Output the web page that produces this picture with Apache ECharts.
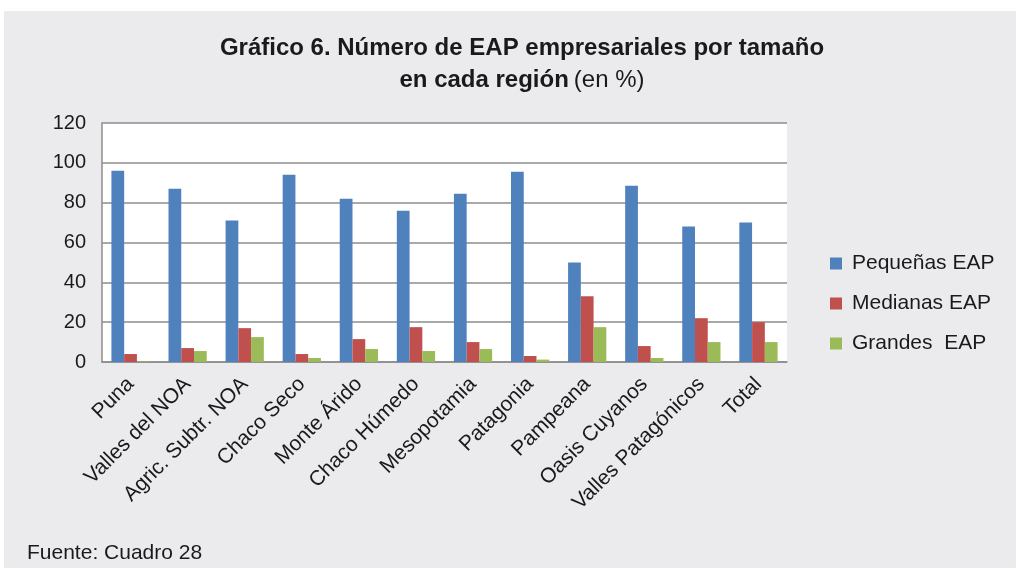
<!DOCTYPE html>
<html>
<head>
<meta charset="utf-8">
<script src="https://cdn.jsdelivr.net/npm/echarts@6/dist/echarts.min.js"></script>
<style>
  html, body { margin: 0; padding: 0; background: #ffffff; }
  #chart { width: 1016px; height: 568px; }
</style>
</head>
<body>
<div id="chart"></div>
<script>
// regiones
const regiones = ['Puna', 'Valles del NOA', 'Agric. Subtr. NOA', 'Chaco Seco', 'Monte Árido',
  'Chaco Húmedo', 'Mesopotamia', 'Patagonia', 'Pampeana', 'Oasis Cuyanos',
  'Valles Patagónicos', 'Total']
const pequenas = [96, 87, 71, 94, 82, 76, 84.5, 95.5, 50, 88.5, 68, 70]
const medianas = [4, 7, 17, 4, 11.5, 17.5, 10, 3, 33, 8, 22, 20]
const grandes = [0.3, 5.5, 12.5, 2, 6.5, 5.5, 6.5, 1.2, 17.5, 2, 10, 10]
const yTicks = [0, 20, 40, 60, 80, 100, 120]

const chart = echarts.init(document.getElementById('chart'))

const fuente = 'Liberation Sans, Arial, sans-serif'

const barSerie = (name, data, color) => ({
  name: name,
  type: 'bar',
  data: data,
  barGap: '0%',
  barCategoryGap: '33%',
  itemStyle: { color: color },
  emphasis: { disabled: true }
})

chart.setOption({
  animation: false,
  textStyle: { fontFamily: fuente },
  graphic: [
    {
      type: 'rect',
      z: -10,
      shape: { x: 4, y: 11, width: 1012, height: 557 },
      style: { fill: '#ebebed' }
    },
    {
      type: 'text',
      left: 27,
      top: 543,
      style: { text: 'Fuente: Cuadro 28', fontSize: 21, fill: '#1a1a1a', fontFamily: fuente }
    }
  ],
  title: {
    left: 517,
    textAlign: 'center',
    top: 27,
    text: '{b|Gráfico 6. Número de EAP empresariales por tamaño}\n{b|en cada región} {n|(en %)}',
    textStyle: {
      rich: {
        b: { fontSize: 24, fontWeight: 'bold', color: '#1a1a1a', lineHeight: 32, fontFamily: fuente },
        n: { fontSize: 24, fontWeight: 'normal', color: '#1a1a1a', lineHeight: 32, fontFamily: fuente }
      }
    }
  },
  legend: {
    orient: 'vertical',
    left: 825,
    top: 248,
    itemWidth: 12,
    itemHeight: 12,
    itemGap: 19,
    icon: 'rect',
    textStyle: { fontSize: 21, color: '#1a1a1a', padding: [0, 0, 0, 5] },
    data: ['Pequeñas EAP', 'Medianas EAP', 'Grandes  EAP']
  },
  grid: { left: 102, top: 123, width: 685, height: 239, containLabel: false, show: true, backgroundColor: '#ffffff', borderWidth: 0 },
  xAxis: {
    type: 'category',
    data: regiones,
    axisLine: { lineStyle: { color: '#8c8c8c', width: 1.5 } },
    axisTick: { show: false },
    axisLabel: { rotate: 45, interval: 0, fontSize: 21, color: '#1a1a1a', margin: 19 }
  },
  yAxis: {
    type: 'value',
    min: yTicks[0],
    max: yTicks[yTicks.length - 1],
    interval: 20,
    axisLine: { show: true, lineStyle: { color: '#8c8c8c', width: 1.5 } },
    axisTick: { show: false },
    axisLabel: { fontSize: 20, color: '#1a1a1a', margin: 16 },
    splitLine: { lineStyle: { color: '#8c8c8c', width: 1.5 } }
  },
  series: [
    barSerie('Pequeñas EAP', pequenas, '#4f81bd'),
    barSerie('Medianas EAP', medianas, '#c0504d'),
    barSerie('Grandes  EAP', grandes, '#9bbb59')
  ]
})
</script>
</body>
</html>
